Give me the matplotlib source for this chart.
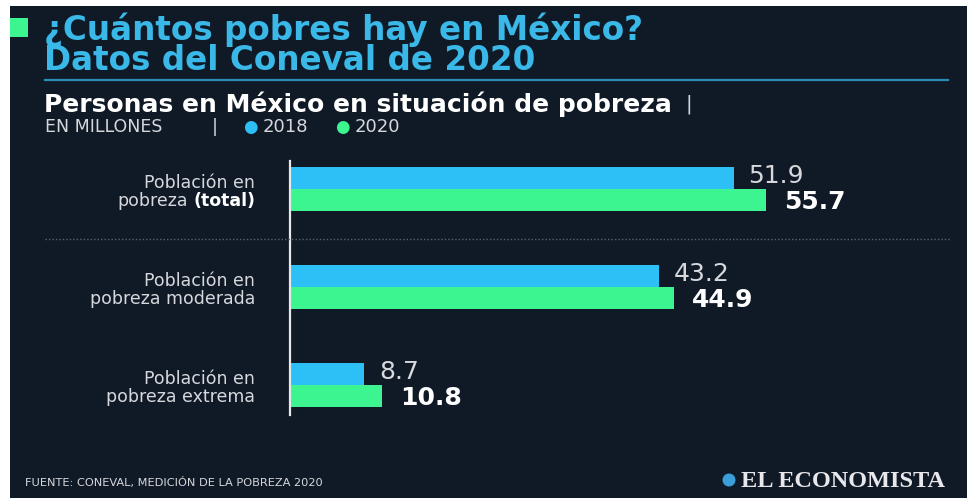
import numpy as np
import matplotlib
matplotlib.use("Agg")
import matplotlib.pyplot as plt
from matplotlib.lines import Line2D
from matplotlib.patches import Rectangle, Ellipse

# data (millones de personas)
categorias = ["Población en\npobreza", "Población en\npobreza moderada", "Población en\npobreza extrema"]
val_2018 = [51.9, 43.2, 8.7]
val_2020 = [55.7, 44.9, 10.8]

BG = "#101a27"
BLUE = "#2cc0f7"
GREEN = "#3cf590"
TITLE = "#3ab8e8"
GRAY = "#d6d8dc"

W, H = 967, 498
fig = plt.figure(figsize=(W / 100, H / 100), dpi=100, facecolor="white")
plt.rcParams['font.family'] = ['DejaVu Sans']


def fx(px):
    return px / W


def fy(py):
    return 1 - py / H


# dark panel (white strips at left and top like the screenshot)
fig.add_artist(Rectangle((fx(10), 0), 1 - fx(10), fy(6), transform=fig.transFigure,
                         facecolor=BG, edgecolor="none", zorder=0))
fig.add_artist(Rectangle((fx(10), fy(37)), fx(18), fy(18) - fy(37), transform=fig.transFigure,
                         facecolor=GREEN, edgecolor="none"))

# title
fig.text(fx(44), fy(40), "¿Cuántos pobres hay en México?", color=TITLE, fontsize=23.5,
         fontweight="bold", va="baseline", ha="left")
fig.text(fx(44), fy(70), "Datos del Coneval de 2020", color=TITLE, fontsize=23.5,
         fontweight="bold", va="baseline", ha="left")
fig.add_artist(Line2D([fx(45), fx(948)], [fy(80), fy(80)], transform=fig.transFigure,
                      color="#2b8db5", lw=1.6))

sub = fig.text(fx(44), fy(104), "Personas en México en situación de pobreza", color="white",
               fontsize=18, fontweight="bold", va="center", ha="left")
renderer = fig.canvas.get_renderer()
sb = sub.get_window_extent(renderer)
fig.text(sb.x1 / (fig.dpi * fig.get_figwidth()) + fx(14), fy(104), "|", color=GRAY,
         fontsize=14, va="center", ha="left")
fig.text(fx(45), fy(127), "EN MILLONES", color=GRAY, fontsize=12.5, va="center", ha="left")
fig.text(fx(212), fy(127), "|", color=GRAY, fontsize=12.5, va="center", ha="left")
fig.text(fx(250), fy(127), "●", color=BLUE, fontsize=12, va="center", ha="center")
fig.text(fx(263), fy(127), "2018", color=GRAY, fontsize=13, va="center", ha="left")
fig.text(fx(342), fy(127), "●", color=GREEN, fontsize=12, va="center", ha="center")
fig.text(fx(355), fy(127), "2020", color=GRAY, fontsize=13, va="center", ha="left")

# bars
ax = fig.add_axes([fx(290), fy(415), fx(948) - fx(290), fy(161) - fy(415)])
ax.set_facecolor("none")
y = np.arange(len(categorias))
bh = 0.2245
ax.barh(y - bh / 2, val_2018, height=bh, color=BLUE)
ax.barh(y + bh / 2, val_2020, height=bh, color=GREEN)
ax.set_xlim(0, 77)
ax.set_ylim(2.306, -0.286)
for s in ["top", "right", "bottom"]:
    ax.spines[s].set_visible(False)
ax.spines["left"].set_color("#e8e8e8")
ax.spines["left"].set_linewidth(1.6)
ax.set_xticks([])
ax.set_yticks([])

for i in range(len(categorias)):
    ax.text(val_2018[i] + 1.7, y[i] - bh / 2 - 0.02, f"{val_2018[i]:.1f}", color=GRAY,
            fontsize=18, va="center", ha="left")
    ax.text(val_2020[i] + 2.1, y[i] + bh / 2 + 0.02, f"{val_2020[i]:.1f}", color="white",
            fontsize=18, fontweight="bold", va="center", ha="left")

# category labels
lab_x = fx(255)
for i, cat in enumerate(categorias):
    top, bottom = cat.split("\n")
    yc = 192 + 98 * i
    fig.text(lab_x, fy(yc - 9), top, color=GRAY, fontsize=12.5, va="center", ha="right")
    if i == 0:
        t = fig.text(lab_x, fy(yc + 9), "(total)", color="white", fontsize=12.5,
                     fontweight="bold", va="center", ha="right")
        bb = t.get_window_extent(renderer)
        fig.text(bb.x0 / (fig.dpi * fig.get_figwidth()) - fx(5), fy(yc + 9), bottom,
                 color=GRAY, fontsize=12.5, va="center", ha="right")
    else:
        fig.text(lab_x, fy(yc + 9), bottom, color=GRAY, fontsize=12.5, va="center", ha="right")

# dotted separator between first and second group
fig.add_artist(Line2D([fx(45), fx(950)], [fy(239), fy(239)], transform=fig.transFigure,
                      color="#5a6470", lw=1, linestyle=(0, (1, 1.5))))

# footer
fig.text(fx(25), fy(482), "FUENTE: CONEVAL, MEDICIÓN DE LA POBREZA 2020", color=GRAY,
         fontsize=8.2, va="center", ha="left")
fig.add_artist(Ellipse((fx(729), fy(480)), 13 / W, 13 / H, transform=fig.transFigure,
                       facecolor="#3a9ed8", edgecolor="none"))
fig.text(fx(741), fy(481), "EL ECONOMISTA", color="#e8e8ec", fontsize=17.5,
         fontweight="bold", family="Liberation Serif", va="center", ha="left")

fig.savefig("out.png", dpi=100, facecolor="white")
